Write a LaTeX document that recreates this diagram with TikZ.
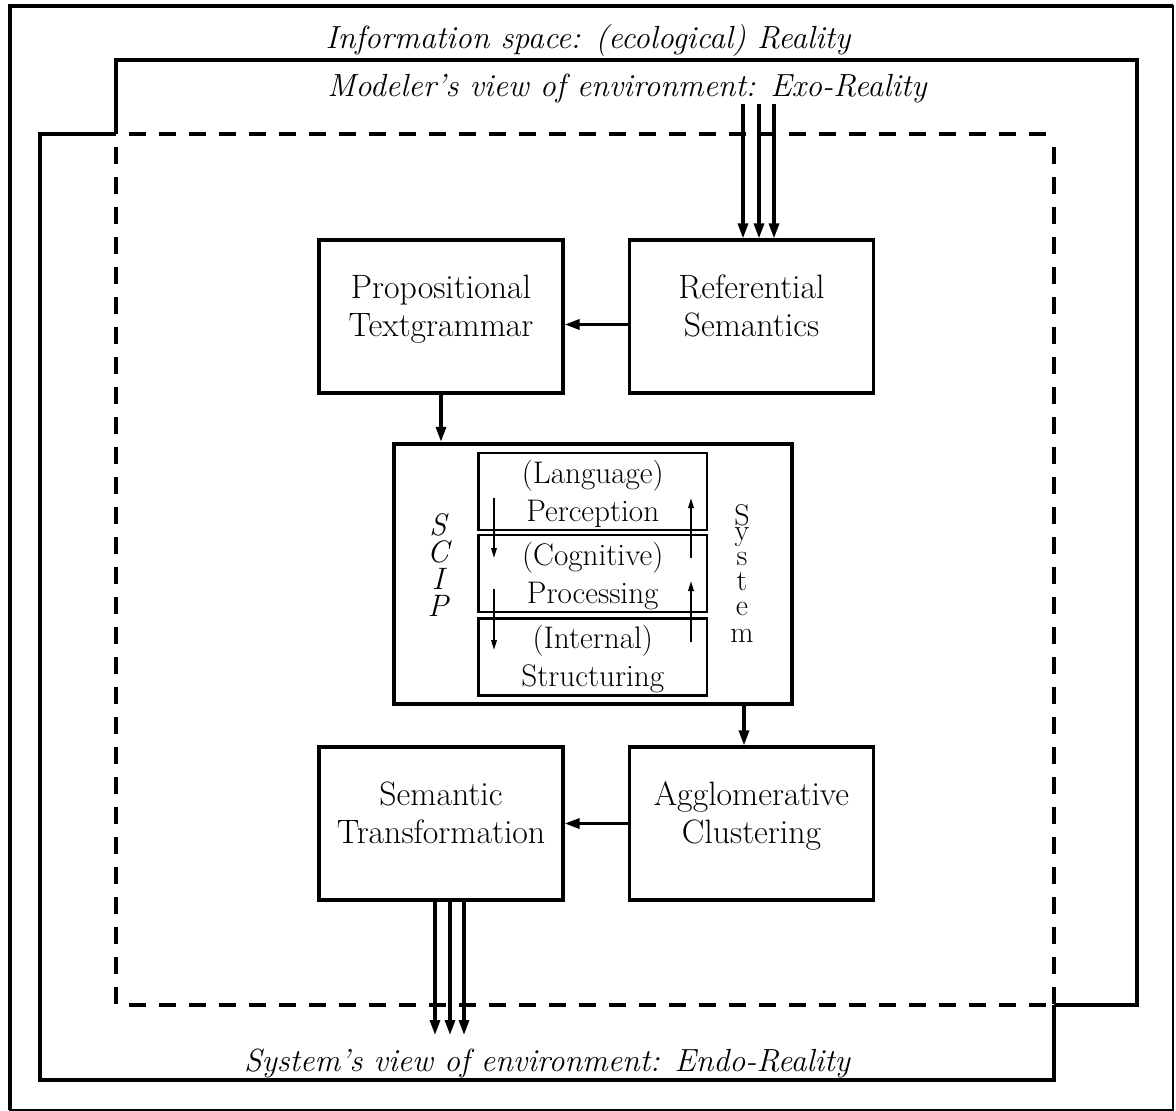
\documentclass[tikz,border=0pt]{standalone}
\usetikzlibrary{arrows.meta,calc}

% type sizes used in the figure
\newcommand\blockfont{\fontsize{33.8}{38}\selectfont}
\newcommand\layerfont{\fontsize{31.2}{37.5}\selectfont}
\newcommand\realmfont{\fontsize{32}{38}\selectfont\itshape}

\begin{document}
\begin{tikzpicture}[x=1pt,y=-1pt,
  frameline/.style={line width=2pt},
  realm/.style={line width=3.8pt},
  modelbox/.style={line width=3.4pt, dash pattern=on 17pt off 13pt, dash phase=17pt},
  block/.style={draw, line width=3.2pt, minimum width=244pt, minimum height=153pt, inner sep=0pt},
  layer/.style={draw, line width=2.8pt, minimum width=228.5pt, minimum height=77pt, inner sep=0pt},
  core/.style={draw, line width=4.4pt, minimum width=398pt, minimum height=260pt, inner sep=0pt},
  blocktext/.style={inner sep=0pt, align=center},
  realmtext/.style={anchor=base, inner sep=0pt, font=\realmfont},
  flow/.style={line width=3.2pt, -{Triangle[length=15pt,width=10pt]}},
  thinflow/.style={line width=1.8pt, -{Triangle[length=10pt,width=5.5pt]}},
]
\useasboundingbox (0,0) rectangle (1176,1111);

% outer frame
\draw[frameline] (10,5.7) rectangle (1173,1109.5);
\draw[line width=4pt] (10,1109.5) -- (10,5.7) -- (1173,5.7);

% corners of the modeled environment (dashed)
\coordinate (mtl) at (116,134);
\coordinate (mtr) at (1054,134);
\coordinate (mbl) at (116,1005);
\coordinate (mbr) at (1054,1005);

% exo-reality and endo-reality outlines
\draw[realm] (mtl) -- (116,60) -- (1137,60) -- (1137,1005) -- (mbr);
\draw[realm] (mbr) -- (1054,1080) -- (40,1080) -- (40,134) -- (mtl);

% dashed environment box, each side drawn from its corner
\draw[modelbox] (mtl) -- (mtr);
\draw[modelbox] (mtl) -- (mbl);
\draw[modelbox] (mbl) -- (mbr);
\draw[modelbox] (mtr) -- (mbr);

% realm captions
\node[realmtext] (info) at (588,48) {Information space: (ecological) Reality};
\node[realmtext] (exo) at (627,96) {Modeler's view of environment: Exo-Reality};
\node[realmtext] (endo) at (547,1071) {System's view of environment: Endo-Reality};

% processing blocks
\node[block] (prop) at (441,316.5) {};
\node[block] (ref) at (751.5,316.5) {};
\node[block] (sem) at (441,823.5) {};
\node[block] (agg) at (751.5,823.5) {};
\node[blocktext, font=\blockfont] (propt) at (441,309.4) {\strut Propositional\\\strut Textgrammar};
\node[blocktext, font=\blockfont] (reft) at (751.5,309.4) {\strut Referential\\\strut Semantics};
\node[blocktext, font=\blockfont] (semt) at (441,816.4) {\strut Semantic\\\strut Transformation};
\node[blocktext, font=\blockfont] (aggt) at (751.5,816.4) {\strut Agglomerative\\\strut Clustering};

% SCIP system with its three layers
\node[core] (scip) at (593,574) {};
\node[layer] (lang) at (592.75,491.5) {};
\node[layer] (cogn) at (592.75,573.5) {};
\node[layer] (intl) at (592.75,656.75) {};
\node[blocktext, font=\layerfont] (langt) at (592.75,494.75) {\strut(Language)\\\strut Perception};
\node[blocktext, font=\layerfont] (cognt) at (592.75,576.75) {\strut(Cognitive)\\\strut Processing};
\node[blocktext, font=\layerfont] (intlt) at (592.75,660) {\strut(Internal)\\\strut Structuring};

\node[blocktext, anchor=north, font={\fontsize{31}{27}\selectfont\itshape}] (scipname) at (438,513)
  {S\\C\\I\\P};
\node[blocktext, anchor=north, font={\fontsize{30}{25}\selectfont}] (sysname) at (742,504)
  {S\\[-10pt]y\\s\\t\\e\\[2pt]m};

% flows between the layers
\draw[thinflow] ($(lang.center)+(-98.75,6.5)$) -- ($(cogn.center)+(-98.75,-15.5)$);
\draw[thinflow] ($(cogn.center)+(-98.75,15.5)$) -- ($(intl.center)+(-98.75,-6.75)$);
\draw[thinflow] ($(cogn.center)+(98.25,-15.5)$) -- ($(lang.center)+(98.25,6.5)$);
\draw[thinflow] ($(intl.center)+(98.25,-14.75)$) -- ($(cogn.center)+(98.25,7.5)$);

% flows between the blocks
\draw[flow] ($(ref.west)+(0,8)$) -- ($(prop.east)+(0,8)$);
\draw[flow] (prop.south) -- (prop.south |- scip.north);
\coordinate (sa) at ($(scip.south)+(151,0)$);
\draw[flow] (sa) -- (sa |- agg.north);
\draw[flow] (agg.west) -- (sem.east);

% input from the exo-reality, output to the endo-reality
\foreach \x/\n in {743/1,759/2,774/3} {
  \coordinate (in\n) at (\x,104);
  \draw[flow] (in\n) -- (in\n |- ref.north);
}
\foreach \x/\n in {435/1,450/2,464/3} {
  \coordinate (out\n) at (\x,1035);
  \draw[flow] (out\n |- sem.south) -- (out\n);
}
\end{tikzpicture}
\end{document}
